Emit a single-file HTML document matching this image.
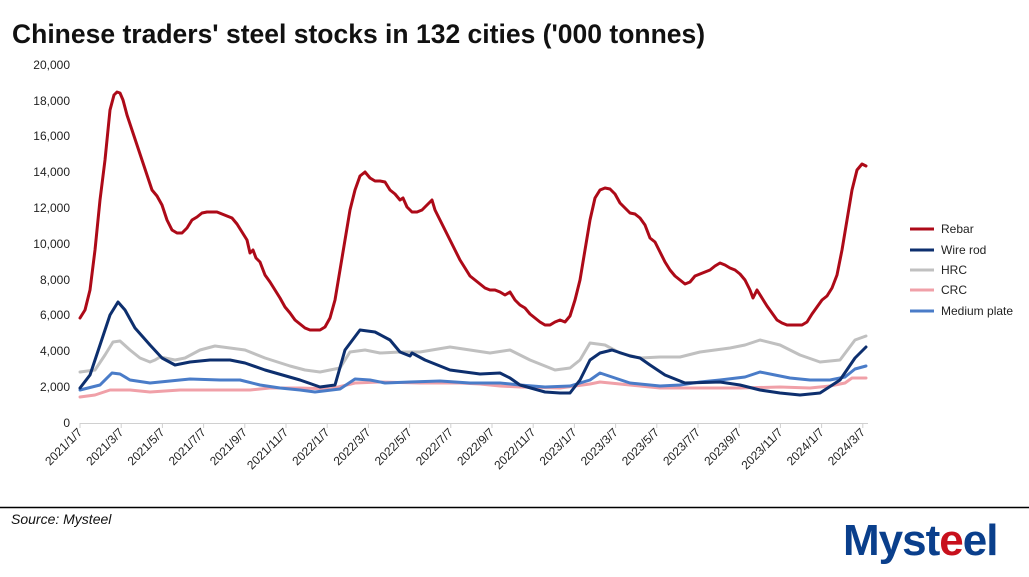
<!DOCTYPE html>
<html><head><meta charset="utf-8"><style>
body{margin:0;background:#fff;width:1029px;height:572px;overflow:hidden;font-family:"Liberation Sans",Arial,sans-serif}
</style></head><body>
<svg width="1029" height="572" viewBox="0 0 1029 572" xmlns="http://www.w3.org/2000/svg" font-family="Liberation Sans, Arial, sans-serif">
<text x="12" y="43" font-size="26.5" font-weight="bold" fill="#111">Chinese traders' steel stocks in 132 cities ('000 tonnes)</text>
<g font-size="12" fill="#222" text-anchor="end">
<text x="70" y="427">0</text><text x="70" y="391">2,000</text><text x="70" y="355">4,000</text><text x="70" y="319">6,000</text><text x="70" y="284">8,000</text><text x="70" y="248">10,000</text><text x="70" y="212">12,000</text><text x="70" y="176">14,000</text><text x="70" y="140">16,000</text><text x="70" y="105">18,000</text><text x="70" y="69">20,000</text>
</g>
<line x1="80" y1="423.5" x2="868" y2="423.5" stroke="#d0d0d0"/>
<g stroke="#d0d0d0" id="ticks"></g>
<g font-size="12" fill="#222" id="xl"></g>
<g fill="none" stroke-width="3" stroke-linejoin="round" stroke-linecap="round">
<polyline stroke="#f0a0a8" points="80,397 95,395 110,390 130,390 150,392 180,390 250,390 270,388 300,388 330,389 355,383 380,382 420,383 460,383 480,384 500,386 520,387 560,388 590,384 600,382 630,385 660,388 700,388 740,388 780,387 810,388 830,386 845,383 852,378 866,378"/>
<polyline stroke="#c0c0c0" points="80,372 95,370 105,355 113,342 120,341 130,350 140,358 150,362 155,360 160,357 175,360 185,358 200,350 215,346 230,348 245,350 265,358 290,366 305,370 320,372 340,368 350,352 365,350 380,353 400,352 420,352 450,347 490,353 510,350 530,360 555,370 570,368 580,360 590,343 605,345 620,353 640,358 660,357 680,357 700,352 730,348 745,345 760,340 780,345 800,355 820,362 840,360 855,340 866,336"/>
<polyline stroke="#4a7cc8" points="80,390 100,385 112,373 120,374 130,380 150,383 170,381 190,379 220,380 240,380 260,385 280,388 300,390 315,392 340,389 355,379 370,380 385,383 410,382 440,381 470,383 500,383 520,385 545,387 570,386 590,380 600,373 615,378 630,383 660,386 680,385 700,382 720,380 745,377 760,372 775,375 790,378 810,380 830,380 845,377 855,369 866,366"/>
<polyline stroke="#0d2f6e" points="80,388 90,375 100,345 110,315 118,302 125,310 135,328 150,345 162,358 175,365 190,362 210,360 230,360 245,363 265,370 300,380 320,387 335,385 345,350 360,330 375,332 390,340 400,352 410,356 412,353 425,360 450,370 480,374 500,373 510,378 520,385 545,392 560,393 570,393 580,380 590,360 600,353 612,350 630,356 640,358 650,365 665,375 685,383 720,382 740,385 760,390 780,393 800,395 820,393 840,380 855,358 866,347"/>
<polyline stroke="#ad0a18" points="80,318 85,310 90,290 95,250 100,200 105,160 110,110 114,95 117,92 120,93 123,100 127,115 132,130 137,145 142,160 147,175 152,190 157,196 162,205 167,220 172,230 177,233 182,233 187,228 192,220 197,217 202,213 207,212 212,212 217,212 222,214 227,216 232,218 237,224 242,232 247,240 250,253 253,250 256,258 260,262 265,275 270,282 275,290 280,298 285,307 290,313 295,320 300,324 305,328 310,330 315,330 320,330 325,327 330,318 335,300 340,270 345,240 350,210 355,190 360,176 365,172 370,178 375,181 380,181 385,182 390,190 395,194 400,200 403,198 407,207 412,212 417,212 422,210 427,205 432,200 435,210 440,220 445,230 450,240 455,250 460,260 465,268 470,276 475,280 480,284 485,288 490,290 495,290 500,292 505,295 510,292 515,300 520,305 525,308 530,314 535,318 540,322 545,325 550,325 555,322 560,320 565,322 570,316 575,300 580,280 585,250 590,220 595,198 600,190 605,188 610,189 615,194 620,203 625,208 630,213 635,214 640,218 645,225 650,238 655,242 660,252 665,262 670,270 675,276 680,280 685,284 690,282 695,276 700,274 705,272 710,270 715,266 720,263 725,265 730,268 735,270 740,274 745,280 750,290 753,298 757,290 762,298 767,306 772,313 777,320 782,323 787,325 792,325 797,325 802,325 807,322 812,314 817,307 822,300 827,296 832,288 837,275 842,250 847,220 852,190 857,170 862,164 866,166"/>
</g>
<g stroke-width="3">
<line x1="910" y1="229" x2="934" y2="229" stroke="#ad0a18"/>
<line x1="910" y1="250" x2="934" y2="250" stroke="#0d2f6e"/>
<line x1="910" y1="270" x2="934" y2="270" stroke="#c0c0c0"/>
<line x1="910" y1="290" x2="934" y2="290" stroke="#f0a0a8"/>
<line x1="910" y1="311" x2="934" y2="311" stroke="#4a7cc8"/>
</g>
<g font-size="12" fill="#222">
<text x="941" y="233">Rebar</text><text x="941" y="254">Wire rod</text><text x="941" y="274">HRC</text><text x="941" y="294">CRC</text><text x="941" y="315">Medium plate</text>
</g>
<line x1="0" y1="507.5" x2="1029" y2="507.5" stroke="#000" stroke-width="1.5"/>
<text x="11" y="524" font-size="14" font-style="italic" fill="#111">Source: Mysteel</text>
<text x="843" y="555" font-size="44" font-weight="bold" fill="#0a3f8c" letter-spacing="-1">Myst<tspan fill="#c8101c">e</tspan>el</text>
</svg>
<script>
var t=document.getElementById('ticks'),xl=document.getElementById('xl'),ns='http://www.w3.org/2000/svg';
var labs=['2021/1/7','2021/3/7','2021/5/7','2021/7/7','2021/9/7','2021/11/7','2022/1/7','2022/3/7','2022/5/7','2022/7/7','2022/9/7','2022/11/7','2023/1/7','2023/3/7','2023/5/7','2023/7/7','2023/9/7','2023/11/7','2024/1/7','2024/3/7'];
for(var i=0;i<20;i++){var x=80+i*41.2;var l=document.createElementNS(ns,'line');l.setAttribute('x1',x);l.setAttribute('x2',x);l.setAttribute('y1',423);l.setAttribute('y2',428);t.appendChild(l);
var tx=document.createElementNS(ns,'text');tx.setAttribute('text-anchor','end');tx.setAttribute('transform','translate('+(x+3)+',433) rotate(-45)');tx.textContent=labs[i];xl.appendChild(tx);}
</script>
</body></html>
